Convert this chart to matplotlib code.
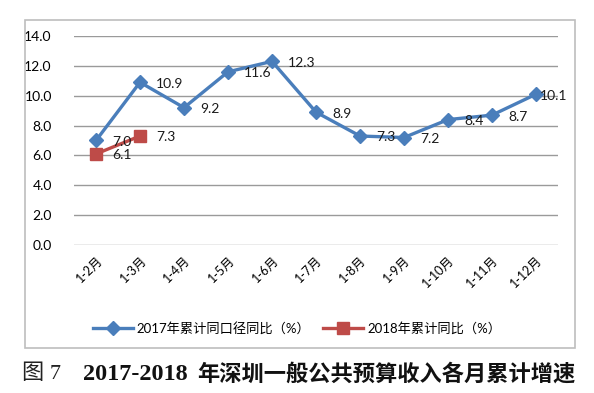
import matplotlib.pyplot as plt
from matplotlib.patches import Rectangle

# Data
months = ['1-2月', '1-3月', '1-4月', '1-5月', '1-6月', '1-7月',
          '1-8月', '1-9月', '1-10月', '1-11月', '1-12月']
growth_2017 = [7.0, 10.9, 9.2, 11.6, 12.3, 8.9, 7.3, 7.2, 8.4, 8.7, 10.1]
growth_2018 = [6.1, 7.3]
label_2017 = '2017年累计同口径同比（%）'
label_2018 = '2018年累计同比（%）'
caption_num = '图 7'
caption_years = '2017-2018'
caption_text = '年深圳一般公共预算收入各月累计增速'
yticks = [0, 2, 4, 6, 8, 10, 12, 14]

fonts = ['Lato', 'Noto Sans CJK SC', 'DejaVu Sans']
plt.rcParams['font.family'] = fonts

fig = plt.figure(figsize=(5.94, 3.93), dpi=100)
ax = fig.add_axes([0.1246, 0.3766, 0.8148, 0.5318])

# chart frame
fig.patches.append(Rectangle((0.042, 0.1145), 0.926, 0.8346, transform=fig.transFigure,
                             fill=False, edgecolor='#BEBEBE', linewidth=1.2))

x = list(range(len(months)))
ax.plot(x, growth_2017, color='#4A7EBB', lw=2.4, marker='D', ms=7,
        label=label_2017, zorder=3)
ax.plot(x[:len(growth_2018)], growth_2018, color='#BE4B48', lw=2.4, marker='s', ms=8.5,
        label=label_2018, zorder=4)

# data labels (right of point)
for i, v in enumerate(growth_2017):
    off = 3 if i == len(growth_2017) - 1 else 11.5
    ax.annotate(f'{v:.1f}', (i, v), xytext=(off, -1), textcoords='offset points',
                ha='left', va='center', fontsize=10, color='#1a1a1a', zorder=5)
for i, v in enumerate(growth_2018):
    ax.annotate(f'{v:.1f}', (i, v), xytext=(11.5, -1), textcoords='offset points',
                ha='left', va='center', fontsize=10, color='#1a1a1a', zorder=5)

ax.set_xlim(-0.5, len(months) - 0.5)
ax.set_ylim(0, 14)
ax.set_yticks(yticks)
ax.set_yticklabels([f'{t:.1f}' for t in yticks], fontsize=10)
ax.set_xticks(x)
ax.set_xticklabels(months, rotation=45, ha='right', rotation_mode='anchor', fontsize=9)
ax.tick_params(length=0, pad=16, axis='y')
ax.tick_params(length=0, pad=6, axis='x')
ax.grid(axis='y', color='#9A9A9A', linewidth=1)
ax.set_axisbelow(True)
for s in ax.spines.values():
    s.set_visible(False)

fig.legend(loc='center', bbox_to_anchor=(0.5, 0.165), ncol=2, frameon=False,
           fontsize=9.5, handlelength=3, handletextpad=0.3, columnspacing=1.0)

# caption below the chart
cy = 0.048
fig.text(22 / 594, cy, caption_num, fontsize=16, va='center', ha='left',
         family=['Liberation Serif', 'Noto Sans CJK SC'], color='#222222')
fig.text(83 / 594, cy, caption_years, fontsize=17.5, va='center', ha='left',
         family=['Liberation Serif'], weight='bold', color='#111111')
fig.text(197 / 594, cy, caption_text, fontsize=16, va='center', ha='left',
         family=['Noto Sans CJK SC'], weight='bold', color='#111111')

fig.savefig('out.png', dpi=100)
